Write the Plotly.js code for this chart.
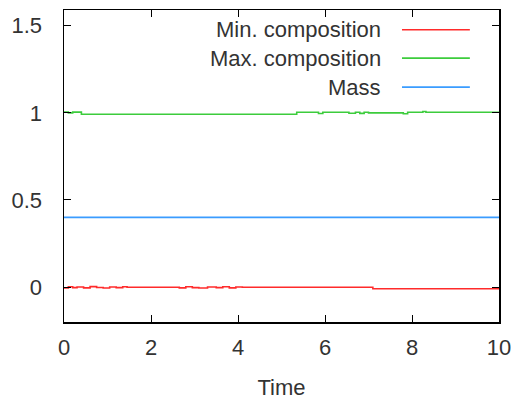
<!DOCTYPE html>
<html>
<head>
<meta charset="utf-8">
<script src="https://cdn.plot.ly/plotly-3.0.1.min.js"></script>
<style>html,body{margin:0;padding:0;background:#fff;}#chart{width:513px;height:400px;}</style>
</head>
<body>
<div id="chart"></div>
<script>
// Min. composition (step series)
var minX = [0, 0.1, 0.2, 0.3, 0.45, 0.6, 0.75, 0.9, 1.05, 1.2, 1.35, 1.45, 2.65, 2.8, 2.95, 3.1, 3.3, 3.5, 3.65, 3.8, 3.95, 4.1, 7.1, 10];
var minY = [-0.004, 0.002, -0.003, 0.001, -0.004, 0.003, -0.002, -0.005, 0.001, -0.003, 0.002, -0.001, -0.004, 0.002, -0.003, -0.005, 0.001, -0.003, 0.002, -0.004, 0.001, -0.001, -0.009, -0.009];
// Max. composition (step series)
var maxX = [0, 0.1, 0.2, 0.4, 5.35, 5.85, 5.95, 6.55, 6.7, 6.8, 6.9, 7.0, 7.8, 7.9, 8.25, 8.32, 10];
var maxY = [1.004, 1.0, 1.004, 0.992, 1.003, 0.996, 1.003, 0.998, 1.003, 0.997, 1.003, 1.0, 0.995, 1.003, 1.008, 1.003, 1.003];
// Mass
var massX = [0, 10];
var massY = [0.4, 0.4];

var names = ["Min. composition", "Max. composition", "Mass"];
var colors = ["#ff2b2b", "#3ccc3c", "#3a9cff"];
var xTicks = [0, 2, 4, 6, 8, 10];
var yTicks = [0, 0.5, 1, 1.5];
var yTickText = ["0", "0.5", "1", "1.5"];

var font = "Liberation Sans, Arial, sans-serif";
var txtColor = "#333";
var series = [[minX, minY], [maxX, maxY], [massX, massY]];
var traces = series.map(function (s, i) {
  return {x: s[0], y: s[1], mode: "lines", line: {color: colors[i], width: 1.6, shape: "hv"}, name: names[i], showlegend: false, hoverinfo: "skip"};
});

// gnuplot-style legend: text right-aligned, sample line to its right
var legRowsY = [0.9366, 0.8456, 0.7527];
var annotations = names.map(function (n, i) {
  return {xref: "paper", yref: "paper", x: 0.733, y: legRowsY[i], xanchor: "right", yanchor: "middle", text: n, showarrow: false, font: {family: font, size: 22, color: txtColor}};
});
var shapes = names.map(function (n, i) {
  return {type: "line", xref: "paper", yref: "paper", x0: 0.777, x1: 0.933, y0: legRowsY[i], y1: legRowsY[i], line: {color: colors[i], width: 1.6}};
});

var layout = {
  width: 513, height: 400,
  margin: {l: 64, r: 14, t: 10, b: 78},
  paper_bgcolor: "#fff", plot_bgcolor: "#fff",
  showlegend: false,
  font: {family: font, size: 22, color: txtColor},
  xaxis: {range: [0, 10], tickvals: xTicks, ticktext: xTicks.map(String), ticks: "inside", ticklen: 7, tickcolor: "#000", tickwidth: 1,
          showline: true, linecolor: "#000", linewidth: 1.5, mirror: "allticks", showgrid: false, zeroline: false,
          ticklabelstandoff: 5, tickfont: {family: font, size: 22, color: txtColor},
          title: {text: "Time", font: {family: font, size: 22, color: txtColor}, standoff: 22}},
  yaxis: {range: [-0.2, 1.59], tickvals: yTicks, ticktext: yTickText, ticks: "inside", ticklen: 7, tickcolor: "#000", tickwidth: 1,
          showline: true, linecolor: "#000", linewidth: 1.5, mirror: "allticks", showgrid: false, zeroline: false,
          ticklabelstandoff: 16, tickfont: {family: font, size: 22, color: txtColor}},
  annotations: annotations,
  shapes: shapes
};
Plotly.newPlot("chart", traces, layout, {displayModeBar: false, staticPlot: true});
</script>
</body>
</html>
